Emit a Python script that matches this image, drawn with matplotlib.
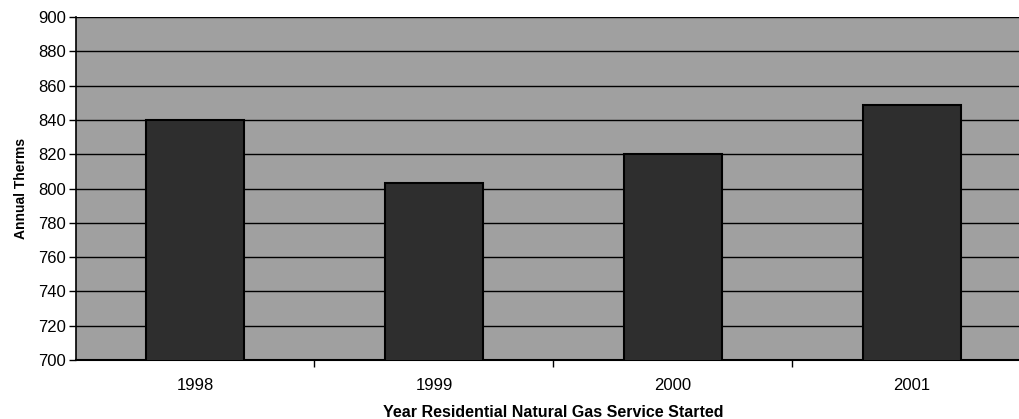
import matplotlib
matplotlib.use("Agg")
import matplotlib.pyplot as plt

# data
years = ['1998', '1999', '2000', '2001']
therms = [840, 803, 820, 849]
yticks = list(range(700, 901, 20))

plt.rcParams['font.family'] = ['Liberation Sans', 'DejaVu Sans']

fig = plt.figure(figsize=(10.19, 4.19), dpi=100)
# plot area runs a little past the right edge, as in the scan
ax = fig.add_axes([0.0741, 0.141, 0.938, 0.818])
ax.set_facecolor('#a0a0a0')

x = list(range(len(years)))
ax.bar(x, therms, width=0.41, color='#2e2e2e', edgecolor='black', linewidth=1.5, zorder=3)

ax.set_xlim(-0.5, len(years) - 0.5)
ax.set_ylim(700, 900)
ax.set_yticks(yticks)
ax.set_yticklabels([str(v) for v in yticks], fontsize=12)
ax.yaxis.grid(True, color='black', linewidth=1.0, zorder=1)
ax.set_axisbelow(True)

# category labels centred, tick marks between categories
ax.set_xticks(x)
ax.set_xticklabels(years, fontsize=12)
ax.tick_params(axis='x', length=0, pad=13)
ax.set_xticks([i + 0.5 for i in x[:-1]], minor=True)
ax.tick_params(axis='x', which='minor', length=5, width=1, color='black')
ax.tick_params(axis='y', length=5, width=1, pad=2)

for s in ['top', 'right']:
    ax.spines[s].set_visible(False)
ax.spines['left'].set_linewidth(1.2)
ax.spines['bottom'].set_linewidth(1.5)

ax.set_ylabel('Annual Therms', fontsize=10, fontweight='bold', labelpad=7)
fig.text(553 / 1019, 1 - 412 / 419, 'Year Residential Natural Gas Service Started',
         fontsize=11.5, fontweight='bold', ha='center', va='center')

fig.savefig('out.png', dpi=100)
